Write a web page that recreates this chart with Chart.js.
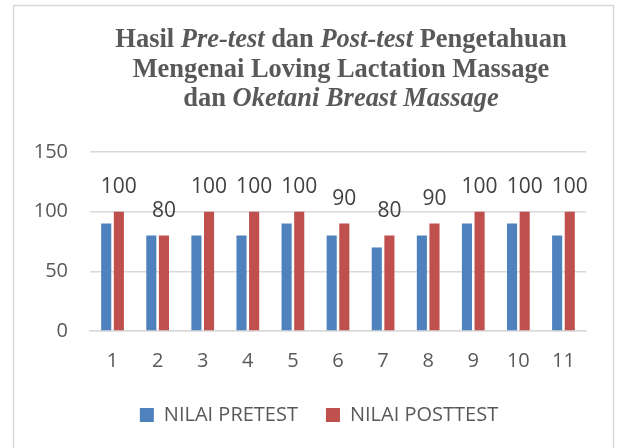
<!DOCTYPE html>
<html>
<head>
<meta charset="utf-8">
<script src="https://cdn.jsdelivr.net/npm/chart.js@4"></script>
<style>
  html, body { margin: 0; padding: 0; background: #fff; }
  #wrap { width: 617px; height: 448px; }
</style>
</head>
<body>
<div id="wrap"><canvas id="nilaiChart" width="617" height="448"></canvas></div>
<script>
var respondents = ['1', '2', '3', '4', '5', '6', '7', '8', '9', '10', '11'];
var nilaiPretest = [90, 80, 80, 80, 90, 80, 70, 80, 90, 90, 80];
var nilaiPosttest = [100, 80, 100, 100, 100, 90, 80, 90, 100, 100, 100];
var yTicks = [0, 50, 100, 150];

// title parts: [text, italic]
var titleLines = [
    [['Hasil ', false], ['Pre-test', true], [' dan ', false], ['Post-test', true], [' Pengetahuan', false]],
    [['Mengenai Loving Lactation Massage', false]],
    [['dan ', false], ['Oketani Breast Massage', true]]
];

var textGrey = '#595959';

// white background + light frame
var framePlugin = {
    id: 'frame',
    beforeDraw: function (chart) {
        var c = chart.ctx;
        c.save();
        c.fillStyle = '#fff';
        c.fillRect(0, 0, chart.width, chart.height);
        c.strokeStyle = '#D9D9D9';
        c.lineWidth = 1.5;
        c.strokeRect(13.5, 5.5, 600, 470);
        c.restore();
    }
};

// legend sits a bit right of the canvas centre in the original
var legendShift = {
    id: 'legendShift',
    afterLayout: function (chart) {
        chart.legend.left += 16;
        chart.legend.right += 16;
    }
};

// multi-style title (bold with italic parts)
var titlePlugin = {
    id: 'mixedTitle',
    afterDraw: function (chart) {
        var c = chart.ctx;
        var cx = 341;
        var sx = 0.98;
        var baselines = [47, 77, 106];
        var fontFor = function (it) {
            return (it ? 'italic ' : '') + 'bold 27px "Liberation Serif", "Times New Roman", serif';
        };
        c.save();
        c.fillStyle = textGrey;
        c.textBaseline = 'alphabetic';
        c.textAlign = 'left';
        titleLines.forEach(function (parts, i) {
            var total = 0;
            parts.forEach(function (p) {
                c.font = fontFor(p[1]);
                total += c.measureText(p[0]).width;
            });
            c.save();
            c.translate(cx, baselines[i]);
            c.scale(sx, 1);
            var x = -total / 2;
            parts.forEach(function (p) {
                c.font = fontFor(p[1]);
                c.fillText(p[0], x, 0);
                x += c.measureText(p[0]).width;
            });
            c.restore();
        });
        c.restore();
    }
};

// value labels above the posttest bars
var valueLabels = {
    id: 'valueLabels',
    afterDatasetsDraw: function (chart) {
        var c = chart.ctx;
        var meta = chart.getDatasetMeta(1);
        c.save();
        c.font = '21px "Open Sans", sans-serif';
        c.fillStyle = '#404040';
        c.textAlign = 'center';
        c.textBaseline = 'middle';
        meta.data.forEach(function (bar, i) {
            c.fillText(String(nilaiPosttest[i]), bar.x, bar.y - 25);
        });
        c.restore();
    }
};

var ctx = document.getElementById('nilaiChart');
var myChart = new Chart(ctx, {
    type: 'bar',
    data: {
        labels: respondents,
        datasets: [
            {
                label: 'NILAI PRETEST',
                data: nilaiPretest,
                backgroundColor: '#4F81BD',
            },
            {
                label: 'NILAI POSTTEST',
                data: nilaiPosttest,
                backgroundColor: '#C0504D',
            },
        ]
    },
    options: {
        responsive: false,
        animation: false,
        categoryPercentage: 0.56,
        barPercentage: 0.8,
        layout: {
            padding: { top: 152, left: 20, right: 31, bottom: 13 }
        },
        plugins: {
            title: { display: false },
            tooltip: { enabled: false },
            legend: {
                position: 'bottom',
                labels: {
                    boxWidth: 14,
                    boxHeight: 14,
                    padding: 28,
                    color: textGrey,
                    font: { family: 'Open Sans', size: 20 },
                },
            },
        },
        scales: {
            x: {
                grid: { display: false, drawTicks: false },
                border: { display: true, color: '#D9D9D9', width: 1.5 },
                ticks: {
                    color: textGrey,
                    padding: 18,
                    maxRotation: 0,
                    font: { family: 'Open Sans', size: 20 },
                },
                afterFit: function (scale) { scale.height = 46; },
            },
            y: {
                min: 0,
                max: 150,
                afterBuildTicks: function (scale) {
                    scale.ticks = yTicks.map(function (v) { return { value: v }; });
                },
                grid: { color: '#D9D9D9', lineWidth: 1.5, drawTicks: false },
                border: { display: false },
                ticks: {
                    color: textGrey,
                    padding: 22,
                    font: { family: 'Open Sans', size: 20 },
                },
                afterFit: function (scale) { scale.width = 70; },
            },
        },
    },
    plugins: [framePlugin, legendShift, valueLabels, titlePlugin],
});
</script>
</body>
</html>
